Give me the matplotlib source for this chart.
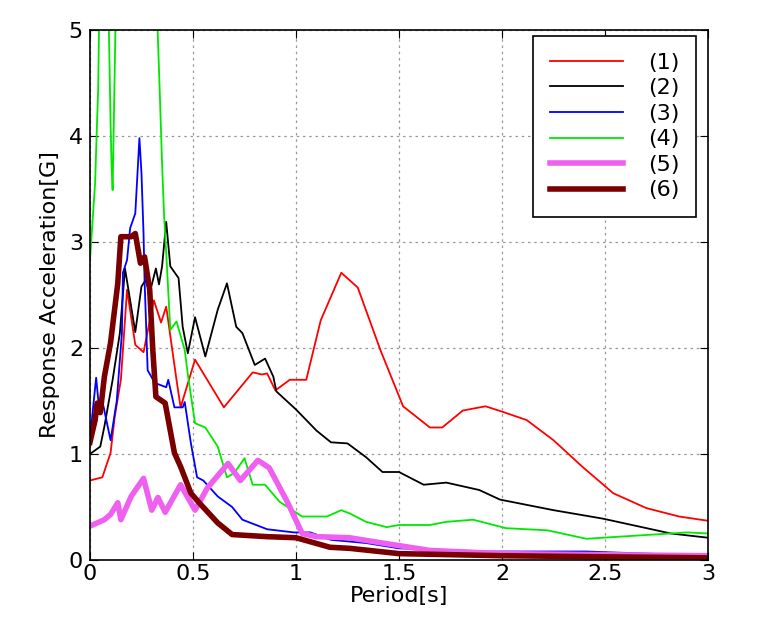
import matplotlib
matplotlib.use("Agg")
import matplotlib.pyplot as plt

# Response spectra: period [s] and acceleration [G]
t1 = [0.0, 0.06, 0.10, 0.12, 0.15, 0.18, 0.22, 0.26, 0.31, 0.345, 0.37, 0.42, 0.44,
      0.51, 0.65, 0.79, 0.835, 0.86, 0.90, 0.97, 1.05, 1.12, 1.22, 1.30, 1.41, 1.52,
      1.65, 1.71, 1.81, 1.92, 2.0, 2.12, 2.25, 2.39, 2.54, 2.70, 2.86, 3.0]
a1 = [0.75, 0.78, 1.01, 1.35, 1.70, 2.55, 2.03, 1.96, 2.45, 2.24, 2.39, 1.70, 1.44,
      1.89, 1.44, 1.77, 1.75, 1.76, 1.60, 1.70, 1.70, 2.26, 2.71, 2.57, 1.98, 1.45,
      1.25, 1.25, 1.41, 1.45, 1.40, 1.32, 1.13, 0.88, 0.63, 0.49, 0.41, 0.37]

t2 = [0.0, 0.05, 0.07, 0.11, 0.145, 0.17, 0.22, 0.25, 0.27, 0.29, 0.32, 0.335, 0.35,
      0.37, 0.39, 0.43, 0.45, 0.475, 0.51, 0.56, 0.62, 0.665, 0.71, 0.74, 0.80, 0.85,
      0.89, 0.905, 1.0, 1.10, 1.17, 1.25, 1.34, 1.42, 1.50, 1.62, 1.73, 1.89, 1.99,
      2.25, 2.49, 2.82, 3.0]
a2 = [1.0, 1.07, 1.26, 1.70, 2.14, 2.75, 2.15, 2.58, 2.64, 2.52, 2.75, 2.60, 2.77,
      3.19, 2.77, 2.66, 2.20, 1.95, 2.29, 1.92, 2.36, 2.61, 2.20, 2.14, 1.84, 1.90,
      1.73, 1.59, 1.42, 1.22, 1.11, 1.10, 0.97, 0.83, 0.83, 0.71, 0.73, 0.66, 0.57,
      0.47, 0.39, 0.25, 0.21]

t3 = [0.0, 0.03, 0.045, 0.06, 0.10, 0.13, 0.155, 0.16, 0.18, 0.195, 0.22, 0.24, 0.25,
      0.26, 0.265, 0.28, 0.315, 0.37, 0.38, 0.41, 0.45, 0.46, 0.49, 0.52, 0.55, 0.62,
      0.69, 0.74, 0.86, 0.99, 1.07, 1.17, 1.34, 1.5, 1.93, 2.41, 2.7, 3.0]
a3 = [1.15, 1.72, 1.41, 1.50, 1.13, 1.50, 2.14, 2.71, 2.83, 3.13, 3.27, 3.98, 3.65,
      3.08, 2.64, 1.79, 1.67, 1.63, 1.70, 1.44, 1.44, 1.49, 1.10, 0.78, 0.75, 0.60,
      0.50, 0.38, 0.29, 0.26, 0.26, 0.19, 0.16, 0.11, 0.08, 0.08, 0.06, 0.04]

t4 = [0.0, 0.025, 0.03, 0.04, 0.045, 0.09, 0.10, 0.105, 0.11, 0.12, 0.125, 0.20, 0.325,
      0.34, 0.35, 0.36, 0.37, 0.39, 0.42, 0.46, 0.475, 0.51, 0.56, 0.62, 0.665, 0.70,
      0.75, 0.79, 0.85, 0.92, 1.03, 1.06, 1.15, 1.22, 1.26, 1.34, 1.44, 1.50, 1.65,
      1.73, 1.86, 2.02, 2.22, 2.41, 2.57, 2.9, 3.0]
a4 = [2.83, 3.56, 3.87, 4.46, 5.2, 5.2, 4.12, 3.71, 3.49, 4.6, 5.2, 6.5, 5.2,
      4.34, 3.74, 3.24, 2.90, 2.17, 2.25, 1.98, 1.75, 1.29, 1.25, 1.07, 0.78, 0.82,
      0.96, 0.71, 0.71, 0.55, 0.41, 0.41, 0.41, 0.47, 0.44, 0.36, 0.31, 0.33, 0.33,
      0.36, 0.38, 0.30, 0.28, 0.20, 0.22, 0.26, 0.25]

t5 = [0.0, 0.07, 0.10, 0.135, 0.15, 0.20, 0.26, 0.30, 0.33, 0.365, 0.44, 0.51, 0.57,
      0.67, 0.73, 0.815, 0.87, 0.96, 1.03, 1.10, 1.26, 1.42, 1.65, 2.0, 2.5, 3.0]
a5 = [0.32, 0.38, 0.43, 0.54, 0.38, 0.60, 0.77, 0.47, 0.59, 0.45, 0.71, 0.47, 0.68,
      0.91, 0.75, 0.94, 0.87, 0.54, 0.25, 0.22, 0.21, 0.16, 0.09, 0.06, 0.05, 0.04]

t6 = [0.0, 0.025, 0.035, 0.05, 0.07, 0.10, 0.135, 0.15, 0.20, 0.22, 0.245, 0.265, 0.29,
      0.305, 0.32, 0.365, 0.41, 0.44, 0.49, 0.53, 0.62, 0.69, 0.86, 1.0, 1.165, 1.26,
      1.5, 2.0, 2.5, 3.0]
a6 = [1.11, 1.32, 1.48, 1.39, 1.73, 2.05, 2.61, 3.05, 3.05, 3.08, 2.80, 2.86, 2.55,
      1.98, 1.54, 1.48, 1.01, 0.88, 0.63, 0.54, 0.35, 0.24, 0.22, 0.21, 0.12, 0.11,
      0.06, 0.04, 0.03, 0.02]

series = [
    (t1, a1, '(1)', '#ff0000', 1.3),
    (t2, a2, '(2)', '#000000', 1.3),
    (t3, a3, '(3)', '#0000ff', 1.3),
    (t4, a4, '(4)', '#00e800', 1.3),
    (t5, a5, '(5)', '#f060f0', 4.0),
    (t6, a6, '(6)', '#7a0000', 4.0),
]

plt.rcParams['font.family'] = ['DejaVu Sans']

fig = plt.figure(figsize=(7.81, 6.2), dpi=100)
ax = fig.add_axes([0.1152, 0.0968, 0.7913, 0.8548])

for t, a, lab, col, lw in series:
    ax.plot(t, a, color=col, lw=lw, label=lab)

ax.set_xlim(0, 3)
ax.set_ylim(0, 5)
ax.set_xticks([0, 0.5, 1, 1.5, 2, 2.5, 3])
ax.set_xticklabels(['0', '0.5', '1', '1.5', '2', '2.5', '3'])
ax.set_yticks([0, 1, 2, 3, 4, 5])
ax.tick_params(direction='in', top=True, right=True, labelsize=16, length=6, pad=3)
ax.tick_params(axis='y', pad=5)
ax.grid(True, color='#999999', linestyle=(0, (2, 3)), linewidth=0.9)
ax.set_xlabel('Period[s]', fontsize=16, labelpad=1)
ax.set_ylabel('Response Acceleration[G]', fontsize=16, labelpad=6)
for s in ax.spines.values():
    s.set_linewidth(1.2)

leg = ax.legend(loc='upper right', bbox_to_anchor=(0.9806, 0.9886), fontsize=16,
                frameon=True, fancybox=False, edgecolor='black', framealpha=1,
                handlelength=3.3, handletextpad=1.1, labelspacing=0.25,
                borderpad=0.75, borderaxespad=0)
leg.get_frame().set_linewidth(1.2)

fig.savefig('out.png', dpi=100)
